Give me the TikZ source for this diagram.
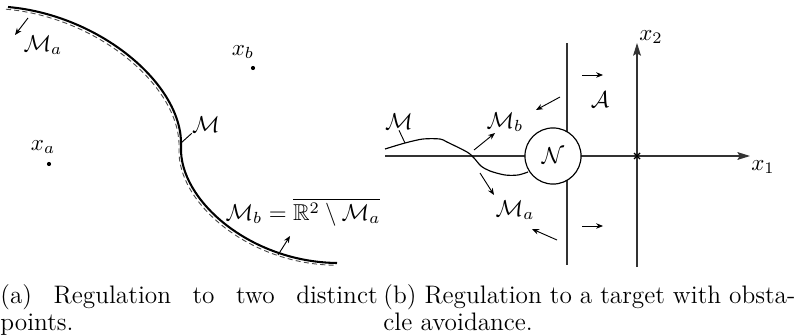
\documentclass[tikz,border=0pt]{standalone}
\usepackage{amsmath,amssymb}
\usetikzlibrary{arrows.meta}
\begin{document}
\begin{tikzpicture}[x=0.4348pt,y=-0.4348pt,
  lbl/.style={inner sep=0pt},
  tip/.style={-{Stealth[length=3pt,width=2.4pt]}, line width=0.4pt},
  ax/.style={black!80, line width=0.5pt},
  axtip/.style={ax, -{Stealth[length=5.5pt,width=3.4pt,inset=1pt]}},
  dot/.style={circle, fill, inner sep=0pt, minimum size=1.8pt},
  capt/.style={anchor=north west, inner sep=0pt, align=justify, font=\fontsize{11}{11.8}\selectfont}]
\useasboundingbox (0,0) rectangle (798,334);
% ---------- left panel ----------
\def\curvepath{(8,7) .. controls (100,15) and (184,85) .. (181,147) .. controls (179,200) and (250,262) .. (337,263)}
\draw[line width=0.9pt] \curvepath;
\draw[black!70, line width=0.4pt, dash pattern=on 2.2pt off 1.4pt, shift={(-2,2.2)}] \curvepath;
\node[lbl] (Ma1) at (43,45) {$\mathcal{M}_a$};
\coordinate (a1s) at (28,18);
\coordinate (a1e) at (15,35);
\draw[tip] (a1s) -- (a1e);
\node[lbl] (xb) at (243,52) {$x_b$};
\node[dot] (pb) at (253,68) {};
\node[lbl] (xa) at (43,147) {$x_a$};
\node[dot] (pa) at (49,164) {};
\node[lbl] (M1) at (206,125) {$\mathcal{M}$};
\coordinate (m1c) at (181,143);
\draw[line width=0.4pt] (m1c) -- (M1.south west);
\node[lbl] (Mb1) at (303,212) {$\mathcal{M}_b = \overline{\mathbb{R}^2\setminus\mathcal{M}_a}$};
\coordinate (a2s) at (278,255);
\coordinate (a2e) at (290,236);
\draw[tip] (a2s) -- (a2e);
% ---------- right panel ----------
\coordinate (hL) at (385,156);
\coordinate (hR) at (750,156);
\coordinate (vT) at (567,43);
\coordinate (vB) at (567,265);
\coordinate (yB) at (637,267);
\coordinate (yT) at (637,43);
\draw[ax] (vT) -- (vB);
\draw[axtip] (hL) -- (hR);
\draw[axtip] (yB) -- (yT);
\node[circle, draw, fill=white, line width=0.5pt, minimum size=24.4pt, inner sep=0pt] (N) at (553,156) {$\mathcal{N}$};
\coordinate (O) at (637,156);
\draw[line width=0.6pt] ([shift={(-3,-3)}]O) -- ([shift={(3,3)}]O) ([shift={(-3,3)}]O) -- ([shift={(3,-3)}]O);
\node[lbl] (x2) at (651,37) {$x_2$};
\node[lbl] (x1) at (763,167) {$x_1$};
\node[lbl] (A) at (600,100) {$\mathcal{A}$};
\node[lbl] (Mb2) at (505,122) {$\mathcal{M}_b$};
\node[lbl] (Ma2) at (515,210) {$\mathcal{M}_a$};
\node[lbl] (M2) at (399,122) {$\mathcal{M}$};
\draw[line width=0.5pt] plot[smooth,tension=0.5] coordinates {(385,149) (405,143) (423,139) (440,139) (447,142) (467,152) (474,158) (481,166) (490,171) (505,175) (518,175) (528,172)};
\coordinate (m2c) at (405,143);
\draw[line width=0.4pt] (m2c) -- (M2.south);
\coordinate (b1s) at (582,75);  \coordinate (b1e) at (603,75);
\coordinate (b2s) at (582,226); \coordinate (b2e) at (603,226);
\coordinate (b3s) at (560,97);  \coordinate (b3e) at (536,110);
\coordinate (b4s) at (557,240); \coordinate (b4e) at (532,229);
\coordinate (b5s) at (474,150); \coordinate (b5e) at (495,133);
\coordinate (b6s) at (480,173); \coordinate (b6e) at (494,195);
\draw[tip] (b1s) -- (b1e);
\draw[tip] (b2s) -- (b2e);
\draw[tip] (b3s) -- (b3e);
\draw[tip] (b4s) -- (b4e);
\draw[tip] (b5s) -- (b5e);
\draw[tip] (b6s) -- (b6e);
% ---------- captions ----------
\node[capt, text width=164pt] (capa) at (0,284) {(a) Regulation to two distinct\linebreak points.};
\node[capt, text width=179.1pt] (capb) at (383,284) {(b) Regulation to a target with obsta-\linebreak cle avoidance.};
\end{tikzpicture}
\end{document}
